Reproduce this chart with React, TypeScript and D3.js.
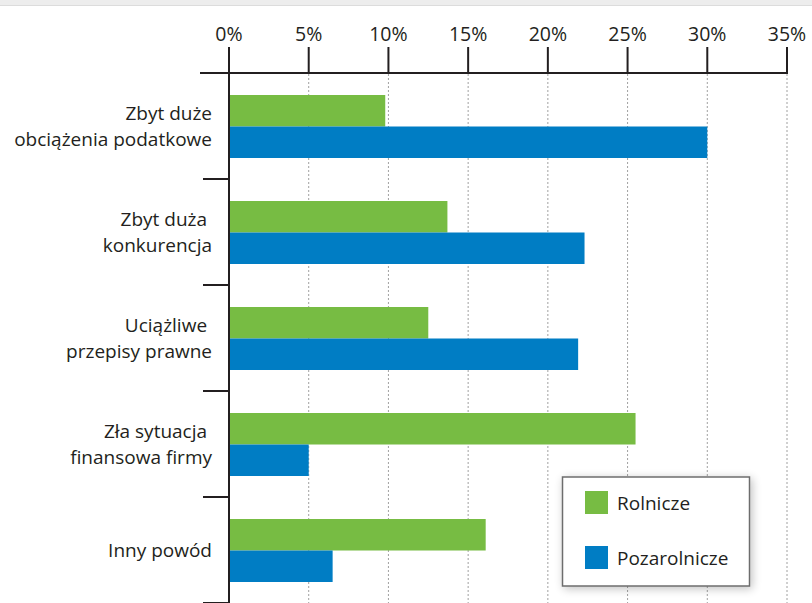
import React from "react";
import * as d3 from "d3";

const categories: string[][] = [
  ["Zbyt duże", "obciążenia podatkowe"],
  ["Zbyt duża ", "konkurencja"],
  ["Uciążliwe ", "przepisy prawne"],
  ["Zła sytuacja ", "finansowa firmy"],
  ["Inny powód"],
];
const seriesNames = ["Rolnicze", "Pozarolnicze"];
const rolnicze = [9.8, 13.7, 12.5, 25.5, 16.1];
const pozarolnicze = [30.0, 22.3, 21.9, 5.0, 6.5];
const tickValues = [0, 5, 10, 15, 20, 25, 30, 35];
const colors = ["#77bc43", "#007dc4"];

const W = 812;
const H = 603;
const FONT = "'Open Sans', 'Noto Sans', sans-serif";
const TEXT = "#231f20";

export default function App() {
  const keys = categories.map((c, i) => String(i));
  const x = d3.scaleLinear().domain([0, 35]).range([229, 787]);
  const y = d3.scaleBand().domain(keys).range([73, 603]).padding(0);
  const y1 = d3.scaleBand().domain(seriesNames).range([22, 85]).padding(0);
  const values = [rolnicze, pozarolnicze];
  const bw = y.bandwidth();

  return (
    <svg
      width={W}
      height={H}
      style={{ position: "absolute", left: 0, top: 0, background: "#fff" }}
      fontFamily={FONT}
    >
      <defs>
        <filter id="shadow" x="-20%" y="-20%" width="140%" height="140%">
          <feGaussianBlur in="SourceAlpha" stdDeviation="5" />
          <feOffset dx="2" dy="2" result="b" />
          <feComponentTransfer>
            <feFuncA type="linear" slope="0.25" />
          </feComponentTransfer>
          <feMerge>
            <feMergeNode />
            <feMergeNode in="SourceGraphic" />
          </feMerge>
        </filter>
      </defs>
      {/* top grey band */}
      <rect x={0} y={0} width={W} height={5} fill="#ededed" />
      <line x1={0} x2={W} y1={5.5} y2={5.5} stroke="#dcdcdc" strokeWidth={1} />

      {/* grid lines */}
      {tickValues.slice(1).map((t) => (
        <line
          key={"g" + t}
          x1={x(t)}
          x2={x(t)}
          y1={74}
          y2={H}
          stroke="#a0a0a0"
          strokeWidth={1}
          strokeDasharray="2 2"
        />
      ))}

      {/* bars */}
      {keys.map((k, i) =>
        seriesNames.map((s, j) => (
          <rect
            key={k + s}
            x={x(0)}
            y={(y(k) as number) + (y1(s) as number)}
            width={x(values[j][i]) - x(0)}
            height={y1.bandwidth()}
            fill={colors[j]}
          />
        ))
      )}

      {/* top axis */}
      <line x1={200} x2={788} y1={73} y2={73} stroke={TEXT} strokeWidth={2} />
      {tickValues.map((t) => (
        <g key={"t" + t}>
          <line x1={x(t)} x2={x(t)} y1={47} y2={73} stroke={TEXT} strokeWidth={2} />
          <text x={x(t)} y={41} textAnchor="middle" fontSize={19.5} fill={TEXT}>
            {t + "%"}
          </text>
        </g>
      ))}

      {/* left axis */}
      <line x1={229} x2={229} y1={73} y2={H} stroke={TEXT} strokeWidth={2} />
      {keys.map((k) => (
        <line
          key={"ct" + k}
          x1={203}
          x2={229}
          y1={(y(k) as number) + bw}
          y2={(y(k) as number) + bw}
          stroke={TEXT}
          strokeWidth={2}
        />
      ))}
      {categories.map((lines, i) => {
        const c = (y(keys[i]) as number) + bw / 2;
        const offs = lines.length === 2 ? [-6, 20] : [7];
        return lines.map((ln, li) => (
          <text
            key={"l" + i + li}
            x={212}
            y={c + offs[li]}
            textAnchor="end"
            fontSize={19}
            fill={TEXT}
            style={{ whiteSpace: "pre" }}
          >
            {ln}
          </text>
        ));
      })}

      {/* legend */}
      <rect
        x={562.5}
        y={477}
        width={187}
        height={109}
        fill="#fff"
        stroke="#6d6d6d"
        strokeWidth={1.5}
        filter="url(#shadow)"
      />
      {seriesNames.map((s, j) => (
        <g key={"lg" + s}>
          <rect x={585} y={491 + j * 55} width={23} height={23} fill={colors[j]} />
          <text x={617} y={510 + j * 55} fontSize={19} fill={TEXT}>
            {s}
          </text>
        </g>
      ))}
    </svg>
  );
}
